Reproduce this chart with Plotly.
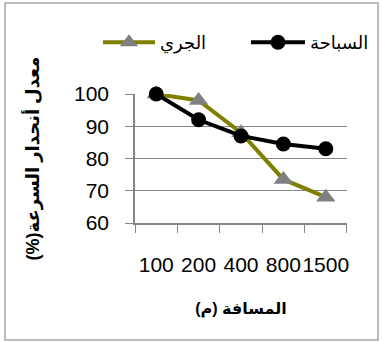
import plotly.graph_objects as go

categories = ["100", "200", "400", "800", "1500"]
running = [100, 98, 88, 73.5, 68]
swimming = [100, 92, 87, 84.5, 83]
series_names = ["الجري", "السباحة"]
y_ticks = [60, 70, 80, 90, 100]

W, H = 382, 342
ml, mr, mt, mb = 135, 35, 94, 119
pw, ph = W - ml - mr, H - mt - mb

RLM = "\u200f"

fig = go.Figure()
fig.add_trace(go.Scatter(
    x=categories, y=running, name=series_names[0], mode="lines+markers",
    line=dict(color="#808000", width=4),
    marker=dict(symbol="triangle-up", size=17, color="#808080"),
    cliponaxis=False, legend="legend",
))
fig.add_trace(go.Scatter(
    x=categories, y=swimming, name=series_names[1], mode="lines+markers",
    line=dict(color="#000000", width=4),
    marker=dict(symbol="circle", size=15, color="#000000"),
    cliponaxis=False, legend="legend2",
))

font_family = "Liberation Sans, Arial, DejaVu Sans, sans-serif"

def legend_at(px_x, item_w):
    return dict(
        orientation="h", x=(px_x - ml) / pw, y=1 + (mt - 24) / ph,
        xanchor="left", yanchor="top",
        font=dict(size=18, family=font_family), bgcolor="rgba(0,0,0,0)",
        itemwidth=item_w,
    )

fig.update_layout(
    width=W, height=H,
    margin=dict(l=ml, r=mr, t=mt, b=mb, autoexpand=False),
    paper_bgcolor="white", plot_bgcolor="white",
    font=dict(family=font_family, color="#000000"),
    showlegend=True,
    legend=legend_at(98, 52),
    legend2=legend_at(246, 54),
    shapes=[dict(
        type="rect", xref="paper", yref="paper",
        x0=(5 - ml) / pw, x1=(378 - ml) / pw,
        y0=1 + (mt - 340) / ph, y1=1 + (mt - 3) / ph,
        line=dict(color="#a6a6a6", width=1.5), layer="below",
    )],
)

fig.update_xaxes(
    type="category", showline=True, linecolor="#868686", linewidth=1.5,
    ticks="outside", tickson="boundaries", ticklen=8, tickcolor="#868686",
    showgrid=False, tickangle=0, tickfont=dict(size=21, family=font_family),
    ticklabelstandoff=22,
    title=dict(text="<b>" + RLM + "المسافة (م)" + RLM + "</b>",
               font=dict(size=16, family=font_family), standoff=28),
)
fig.update_yaxes(
    range=[60, 100], tickvals=y_ticks, showline=True, linecolor="#868686", linewidth=1.5,
    ticks="outside", ticklen=8, tickcolor="#868686",
    showgrid=True, gridcolor="#868686", gridwidth=1, zeroline=False,
    tickfont=dict(size=21, family=font_family), ticklabelstandoff=12,
    title=dict(text="<b>" + RLM + "معدل أنحدار السرعة(%)" + RLM + "</b>",
               font=dict(size=18, family=font_family), standoff=30),
)

fig.write_html("out.html", config={"displayModeBar": False},
               post_script="document.body.style.margin='0';")
